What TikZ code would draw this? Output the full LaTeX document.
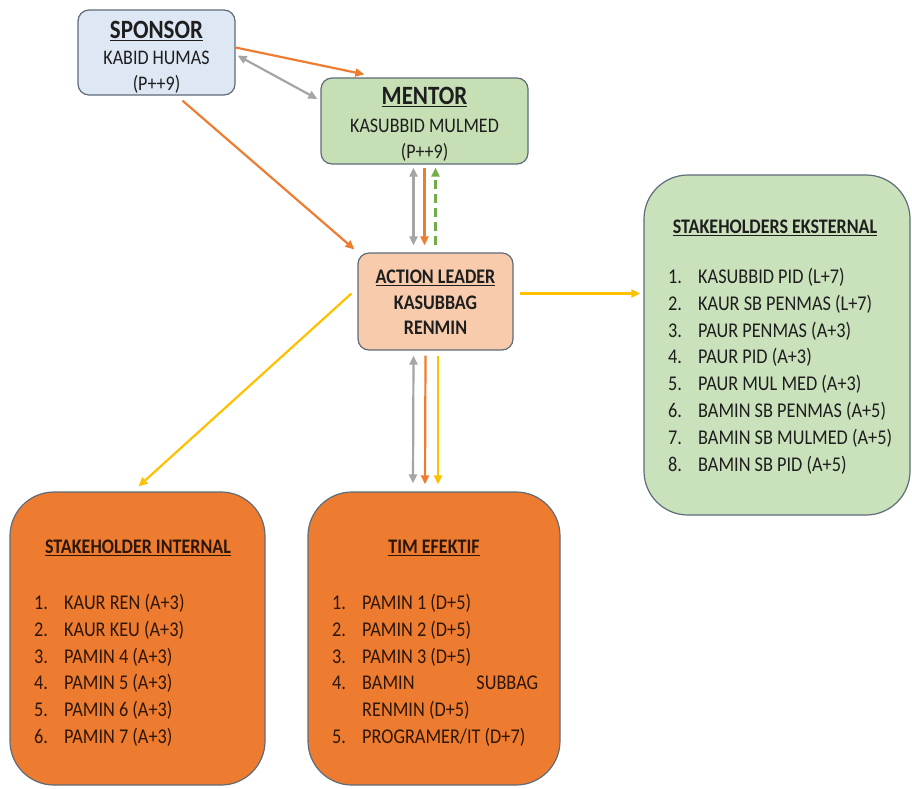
\documentclass[tikz,border=0pt]{standalone}
\usepackage{fontspec}
\setmainfont{Carlito}[FakeStretch=0.87]
\usetikzlibrary{calc,arrows.meta}

\definecolor{sponsorfill}{HTML}{DEE7F4}
\definecolor{mentorfill}{HTML}{C6DFB5}
\definecolor{leaderfill}{HTML}{F7CBAC}
\definecolor{extfill}{HTML}{CAE2BB}
\definecolor{teamfill}{HTML}{EE7C30}
\definecolor{edgegray}{HTML}{5E6B78}
\definecolor{cOrange}{HTML}{ED7D31}
\definecolor{cGray}{HTML}{A5A5A5}
\definecolor{cGreen}{HTML}{70AD47}
\definecolor{cYellow}{HTML}{FFC000}
\definecolor{inktext}{HTML}{1E1E1E}
\definecolor{inkbrown}{HTML}{2E1608}

\newcommand{\itemfont}{\fontsize{21}{26.8}\selectfont}
\newcommand{\titlefont}{\fontsize{26.4}{28}\selectfont\bfseries}

\begin{document}
\begin{tikzpicture}[x=1pt,y=-1pt,
  box/.style={draw=edgegray, line width=1.2pt, inner sep=0pt, align=center},
  smallbox/.style={box, rounded corners=11pt},
  bigbox/.style={box, rounded corners=44pt},
  boxtxt/.style={inner sep=0pt, align=center, text=inktext,
    font=\fontsize{20.7}{25.5}\selectfont},
  headtxt/.style={inner sep=0pt, font=\fontsize{20.7}{22}\selectfont\bfseries},
  listtxt/.style={inner sep=0pt, anchor=base west, font=\itemfont},
  tip/.style={-{Triangle[length=9pt,width=8pt]}},
  bothtips/.style={{Triangle[length=9pt,width=8pt]}-{Triangle[length=9pt,width=8pt]}},
  conn/.style={line width=2.2pt}]

\useasboundingbox (0,0) rectangle (912,788);

% ---------- boxes ----------
\node[smallbox, fill=sponsorfill, minimum width=157pt, minimum height=85pt]
  (sponsor) at (156.5,52.5) {};
\node[smallbox, fill=mentorfill, minimum width=207pt, minimum height=86pt]
  (mentor) at (424.5,121) {};
\node[smallbox, fill=leaderfill, minimum width=155pt, minimum height=97pt]
  (al) at (435.5,301.5) {};
\node[bigbox, fill=extfill, minimum width=266pt, minimum height=340pt]
  (eks) at (777,345) {};
\node[bigbox, fill=teamfill, minimum width=255pt, minimum height=293pt]
  (int) at (137.5,638.5) {};
\node[bigbox, fill=teamfill, minimum width=252pt, minimum height=293pt]
  (tim) at (434,638.5) {};

% ---------- box contents ----------
\node[boxtxt] (sponsortxt) at (156.5,57)
  {{\titlefont\underline{SPONSOR}}\\[1pt]KABID HUMAS\\(P++9)};
\node[boxtxt] (mentortxt) at (424.5,124)
  {{\titlefont\underline{MENTOR}}\\[3pt]KASUBBID MULMED\\(P++9)};
\node[boxtxt, font=\fontsize{20.7}{25.5}\selectfont\bfseries] (altxt) at (435.5,302.5)
  {\underline{ACTION LEADER}\\KASUBBAG\\RENMIN};

\node[headtxt, text=inktext] (eksh) at (775,228) {\underline{STAKEHOLDERS EKSTERNAL}};
\node[listtxt, text=inktext] (eksl) at (668,283.5) {%
  \begin{tabular}[t]{@{}p{30pt}@{}l@{}}
  1. & KASUBBID PID (L+7)\\
  2. & KAUR SB PENMAS (L+7)\\
  3. & PAUR PENMAS (A+3)\\
  4. & PAUR PID (A+3)\\
  5. & PAUR MUL MED (A+3)\\
  6. & BAMIN SB PENMAS (A+5)\\
  7. & BAMIN SB MULMED (A+5)\\
  8. & BAMIN SB PID (A+5)
  \end{tabular}};

\node[headtxt, text=inkbrown] (inth) at (138,548) {\underline{STAKEHOLDER INTERNAL}};
\node[listtxt, text=inkbrown] (intl) at (34,609.5) {%
  \begin{tabular}[t]{@{}p{30pt}@{}l@{}}
  1. & KAUR REN (A+3)\\
  2. & KAUR KEU (A+3)\\
  3. & PAMIN 4 (A+3)\\
  4. & PAMIN 5 (A+3)\\
  5. & PAMIN 6 (A+3)\\
  6. & PAMIN 7 (A+3)
  \end{tabular}};

\node[headtxt, text=inkbrown] (timh) at (434,548) {\underline{TIM EFEKTIF}};
\node[listtxt, text=inkbrown] (timl) at (332,609.5) {%
  \begin{tabular}[t]{@{}p{30pt}@{}p{176pt}@{}}
  1. & PAMIN 1 (D+5)\\
  2. & PAMIN 2 (D+5)\\
  3. & PAMIN 3 (D+5)\\
  4. & BAMIN\hfill SUBBAG\\
     & RENMIN (D+5)\\
  5. & PROGRAMER/IT (D+7)
  \end{tabular}};

% ---------- connectors ----------
% sponsor -> mentor, sponsor <-> mentor
\draw[conn, tip, cOrange] ($(sponsor.east)+(0,-5)$) -- ($(mentor.north west)+(44,-3)$);
\draw[conn, bothtips, cGray] ($(sponsor.east)+(2,3)$) -- ($(mentor.west)+(-3,-22)$);
% sponsor -> action leader
\draw[conn, tip, cOrange] ($(sponsor.south)+(26,5)$) -- ($(al.north west)+(-3,-3)$);
% mentor <-> action leader
\draw[conn, bothtips, cGray] ($(mentor.south)+(-11,3)$) -- ($(al.north)+(-22,-7)$);
\draw[conn, tip, cOrange] ($(mentor.south)+(0,3)$) -- ($(al.north)+(-11,-7)$);
\draw[conn, tip, cGreen, dash pattern=on 9pt off 5pt] ($(al.north)+(0,-7)$) -- ($(mentor.south)+(11,3)$);
% action leader -> external stakeholders
\draw[conn, tip, cYellow] ($(al.east)+(6,-8)$) -- ($(eks.west)+(-3,-51.5)$);
% action leader -> internal stakeholders
\draw[conn, tip, cYellow] ($(al.west)+(-6,-8)$) -- ($(int.north)+(1,-5)$);
% action leader <-> effective team
\draw[conn, bothtips, cGray] ($(al.south)+(-22,5)$) -- ($(tim.north)+(-21,-8)$);
\draw[conn, tip, cOrange] ($(al.south)+(-10,5)$) -- ($(tim.north)+(-9,-7)$);
\draw[conn, tip, cYellow] ($(al.south)+(2.5,5)$) -- ($(tim.north)+(4,-7)$);
\end{tikzpicture}
\end{document}
